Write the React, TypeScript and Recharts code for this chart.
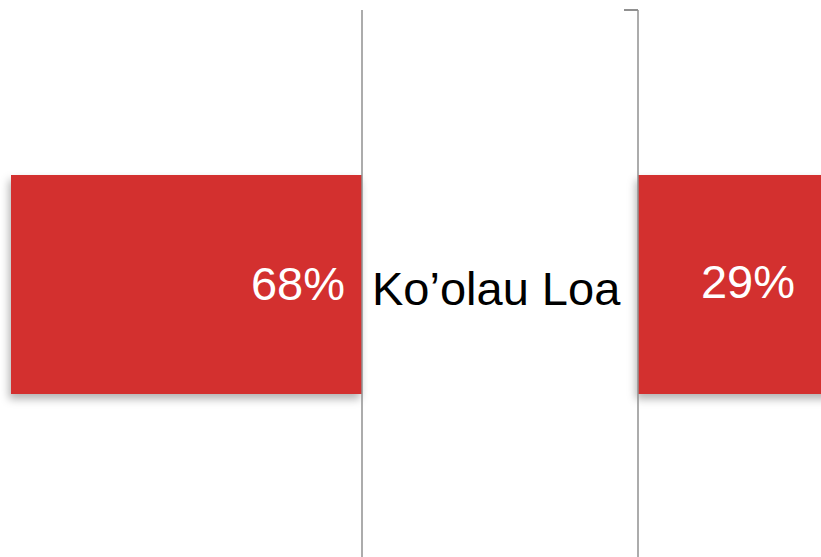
import React from 'react'
import { BarChart, Bar, XAxis, YAxis, LabelList } from 'recharts'

// one region, share on each side of the divider
const regions = ['Ko’olau Loa']
const leftPct = [68]
const rightPct = [29]

const data = regions.map((name, i) => ({ name, left: leftPct[i], right: rightPct[i] }))

const RED = '#D3302F'
const AXIS = '#909090'
const FONT = '"Liberation Sans", Arial, sans-serif'

function ShadowBar(props: any) {
  const { x, y, width, height } = props
  const x0 = Math.min(x, x + width)
  const w = Math.abs(width)
  return (
    <rect
      x={x0}
      y={y}
      width={w}
      height={height}
      fill={RED}
      style={{ filter: 'drop-shadow(-2px 5px 4px rgba(0,0,0,0.3))' }}
    />
  )
}

function LeftLabel(props: any) {
  const { x, y, width, height, value } = props
  const base = Math.max(x, x + width)
  return (
    <text x={base - 17} y={y + height / 2 + 15} textAnchor="end" fill="#fff" fontSize={47} fontFamily={FONT}>
      {value}%
    </text>
  )
}

function RightLabel(props: any) {
  const { x, y, width, height, value } = props
  return (
    <text x={x + width / 2 - 1} y={y + height / 2 + 13} textAnchor="middle" fill="#fff" fontSize={47} fontFamily={FONT}>
      {value}%
    </text>
  )
}

function RegionTick(props: any) {
  const { x, y, payload } = props
  return (
    <text x={x + 2} y={y + 20} textAnchor="start" fill="#000" fontSize={47} fontFamily={FONT}>
      {payload.value}
    </text>
  )
}

export default function App() {
  return (
    <div style={{ position: 'fixed', left: 0, top: 0, width: 821, height: 557, overflow: 'hidden', background: '#fff' }}>
      <div style={{ position: 'absolute', left: 0, top: 0 }}>
        <BarChart width={640} height={559} data={data} layout="vertical" margin={{ top: 10, right: 268, left: 11, bottom: 0 }}>
          <XAxis type="number" hide reversed domain={[0, 68]} />
          <YAxis
            type="category"
            dataKey="name"
            orientation="right"
            width={10}
            tickLine={false}
            axisLine={{ stroke: AXIS, strokeWidth: 1.5 }}
            tick={RegionTick}
          />
          <Bar dataKey="left" barSize={219} shape={ShadowBar} isAnimationActive={false}>
            <LabelList dataKey="left" content={LeftLabel} />
          </Bar>
        </BarChart>
      </div>
      <div style={{ position: 'absolute', left: 600, top: 0 }}>
        <BarChart width={260} height={559} data={data} layout="vertical" margin={{ top: 10, right: 0, left: 28, bottom: 0 }}>
          <XAxis type="number" hide domain={[0, 29]} />
          <YAxis
            type="category"
            dataKey="name"
            orientation="left"
            width={10}
            tickLine={false}
            tick={false}
            axisLine={{ stroke: AXIS, strokeWidth: 1.5 }}
          />
          <Bar dataKey="right" barSize={219} shape={ShadowBar} isAnimationActive={false}>
            <LabelList dataKey="right" content={RightLabel} />
          </Bar>
        </BarChart>
      </div>
      <div style={{ position: 'absolute', left: 624, top: 9, width: 14, height: 1.5, background: AXIS }} />
    </div>
  )
}
